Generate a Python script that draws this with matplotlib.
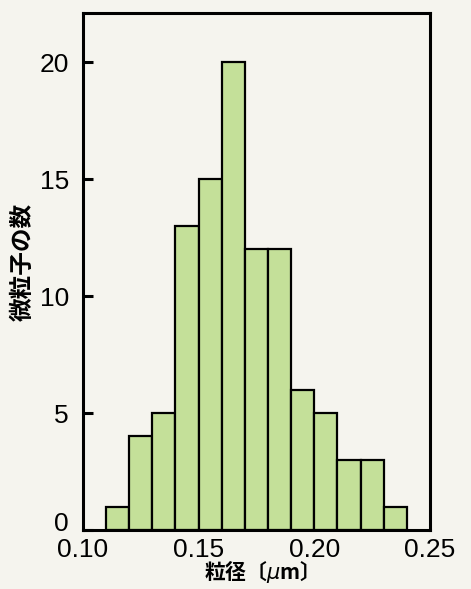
import matplotlib.pyplot as plt
import matplotlib.transforms as mtransforms
import numpy as np

# bin edges (um) and particle counts per bin
bin_edges = [0.11, 0.12, 0.13, 0.14, 0.15, 0.16, 0.17, 0.18, 0.19, 0.20, 0.21, 0.22, 0.23, 0.24]
counts = [1, 4, 5, 13, 15, 20, 12, 12, 6, 5, 3, 3, 1]
x_ticks = [0.10, 0.15, 0.20, 0.25]
x_tick_labels = ['0.10', '0.15', '0.20', '0.25']
y_ticks = [0, 5, 10, 15, 20]

bg = '#f5f4ee'
bar_color = '#c4e099'
num_font = ['Liberation Sans', 'DejaVu Sans']
jp_font = ['Noto Sans CJK JP', 'DejaVu Sans']

fig = plt.figure(figsize=(4.71, 5.89), dpi=100, facecolor=bg)
ax = fig.add_axes([0.176, 0.100, 0.737, 0.878], facecolor=bg)

# histogram bars built from the bin edges
lefts = np.array(bin_edges[:-1])
widths = np.diff(bin_edges)
ax.bar(lefts, counts, width=widths, align='edge', color=bar_color,
       edgecolor='black', linewidth=1.6)

ax.set_xlim(0.10, 0.25)
ax.set_ylim(0, 22.1)

for s in ax.spines.values():
    s.set_linewidth(2.2)

ax.set_xticks(x_ticks)
ax.set_xticklabels(x_tick_labels, family=num_font, fontsize=19)
ax.set_yticks(y_ticks)
ax.set_yticklabels([str(v) for v in y_ticks], family=num_font, fontsize=19)
ax.tick_params(axis='x', length=0, pad=6)
ax.tick_params(axis='y', direction='in', length=7, width=2.2, pad=10)

# lift the "0" label a little so it sits above the 0.10 label, as in the original
zero_label = ax.get_yticklabels()[0]
zero_label.set_transform(zero_label.get_transform() +
                         mtransforms.ScaledTranslation(0, 0.09, fig.dpi_scale_trans))

ax.set_xlabel('粒径〔$\\mu$m〕', family=jp_font, fontsize=15, fontweight='bold', labelpad=-3)
ax.set_ylabel('微粒子の数', family=jp_font, fontsize=17, fontweight='bold')
ax.yaxis.set_label_coords(-0.138, 0.518)

plt.savefig('out.png', dpi=100, facecolor=bg)
